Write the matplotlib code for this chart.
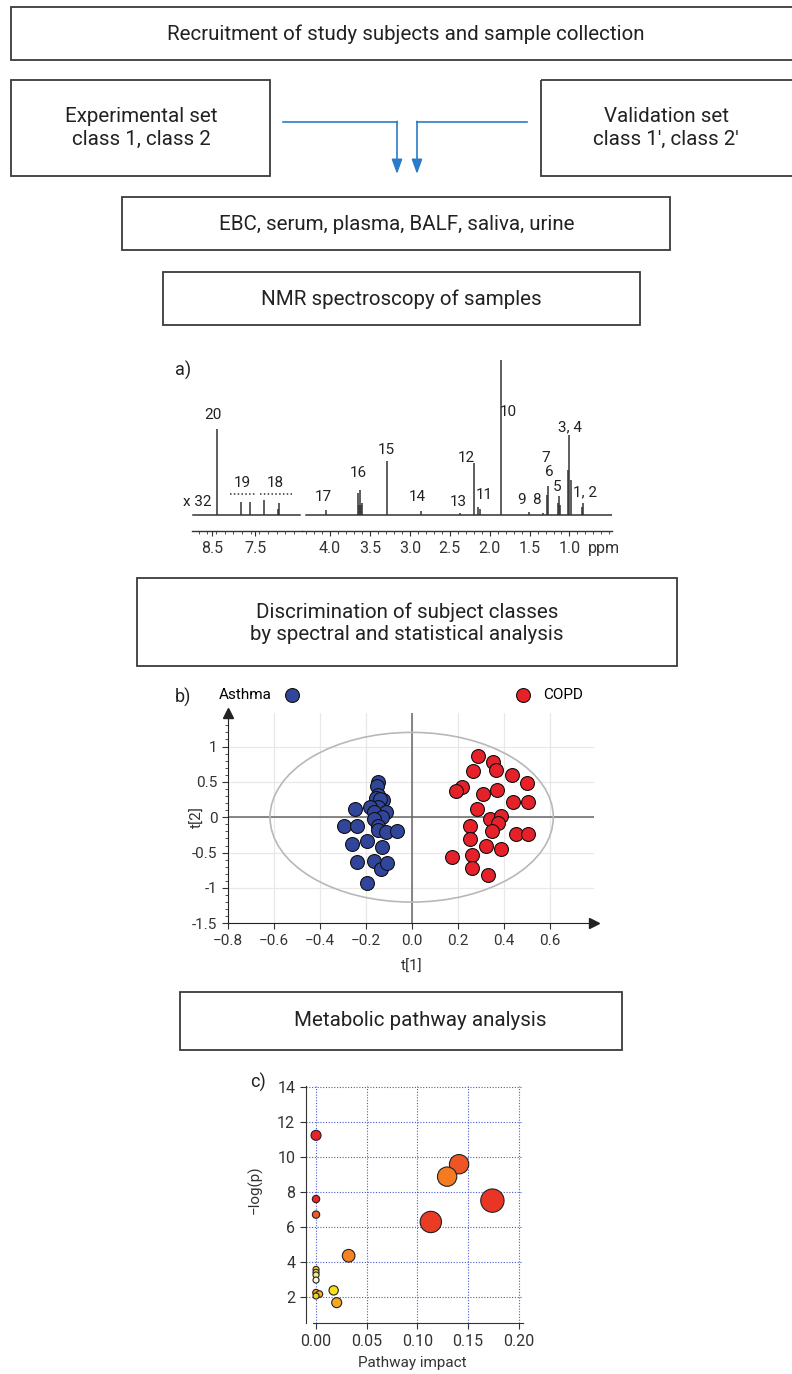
import matplotlib
matplotlib.use("Agg")
import matplotlib.pyplot as plt
from matplotlib.patches import Rectangle, Ellipse
from matplotlib.ticker import MultipleLocator, FixedLocator, FuncFormatter

plt.rcParams['font.family'] = ['Roboto', 'DejaVu Sans']

W, H = 792, 1374

# ---- flow chart text
box_texts = [
    "Recruitment of study subjects and sample collection",
    "Experimental set\nclass 1, class 2",
    "Validation set\nclass 1\u2032, class 2\u2032",
    "EBC, serum, plasma, BALF, saliva, urine",
    "NMR spectroscopy of samples",
    "Discrimination of subject classes\nby spectral and statistical analysis",
    "Metabolic pathway analysis",
]

# ---- a) NMR spectrum (ppm, relative intensity)
arom_ppm = [8.385, 7.82, 7.615, 7.29, 6.975, 6.945]
arom_int = [86, 13, 13, 15, 6, 12]
aliph_ppm = [4.051, 3.65, 3.64, 3.625, 3.61, 3.60, 3.291, 2.861, 2.372, 2.197,
             2.147, 2.122, 1.862, 1.504, 1.332, 1.286, 1.273, 1.150, 1.132,
             1.113, 1.019, 1.006, 0.987, 0.843, 0.831]
aliph_int = [5, 22, 10, 25, 10, 12, 54, 4, 2, 52,
             8, 6, 155, 3, 2, 20, 29, 12, 19,
             10, 45, 80, 35, 8, 12]
arom_range = (8.93, 6.46)
aliph_range = (4.30, 0.47)
arom_ticks = [8.5, 7.5]
aliph_ticks = [4.0, 3.5, 3.0, 2.5, 2.0, 1.5, 1.0]

arom_labels = ['20', '19', '18']
arom_label_ppm = [8.47, 7.80, 7.04]
arom_label_y = [100, 32, 32]
aliph_labels = ['17', '16', '15', '14', '13', '12', '11', '10', '9', '8',
                '7', '6', '5', '3, 4', '1, 2']
aliph_label_ppm = [4.089, 3.641, 3.300, 2.911, 2.397, 2.297, 2.071, 1.771,
                   1.595, 1.420, 1.294, 1.257, 1.157, 0.994, 0.806]
aliph_label_y = [18, 42, 65, 18, 13, 57, 20, 103, 15, 15, 57, 43, 28, 88, 23]

# ---- b) score plot
asthma_t1 = [-0.148, -0.152, -0.145, -0.155, -0.126, -0.139, -0.148, -0.181,
             -0.248, -0.112, -0.162, -0.130, -0.164, -0.145, -0.145, -0.113,
             -0.062, -0.294, -0.239, -0.258, -0.196, -0.130, -0.236, -0.164,
             -0.135, -0.106, -0.193]
asthma_t2 = [0.505, 0.44, 0.32, 0.27, 0.24, 0.26, 0.15, 0.14,
             0.11, 0.07, 0.08, 0.01, -0.03, -0.13, -0.18, -0.21,
             -0.20, -0.12, -0.12, -0.38, -0.34, -0.415, -0.64, -0.62,
             -0.73, -0.65, -0.925]
copd_t1 = [0.290, 0.355, 0.367, 0.265, 0.435, 0.503, 0.217, 0.191, 0.312,
           0.372, 0.442, 0.507, 0.286, 0.341, 0.388, 0.377, 0.254, 0.348,
           0.452, 0.507, 0.254, 0.322, 0.387, 0.177, 0.264, 0.264, 0.330]
copd_t2 = [0.86, 0.78, 0.67, 0.66, 0.60, 0.49, 0.43, 0.37, 0.325,
           0.38, 0.21, 0.22, 0.11, -0.03, 0.02, -0.075, -0.12, -0.20,
           -0.24, -0.24, -0.31, -0.40, -0.45, -0.56, -0.53, -0.72, -0.82]

# ---- c) pathway analysis
impact = [0.0, 0.0, 0.0, 0.0322, 0.0, 0.0, 0.0, 0.0, 0.0, 0.0033, 0.0,
          0.0174, 0.0204, 0.1133, 0.1412, 0.1294, 0.1741]
neglogp = [11.22, 7.58, 6.69, 4.34, 3.56, 3.39, 3.24, 2.95, 2.23, 2.15, 2.04,
           2.36, 1.66, 6.27, 9.57, 8.86, 7.49]
bubble_size = [52, 28, 28, 83, 19, 19, 19, 19, 23, 23, 19,
               45, 52, 236, 194, 194, 282]
bubble_color = ['#e8222a', '#e8262a', '#f05a28', '#f58220', '#f4c542',
                '#f7dc4a', '#faec8a', '#fffbe0', '#f5962a', '#f6b12a',
                '#f2d21c', '#f5e11a', '#f6a81e', '#ea3b24', '#ee5424',
                '#f47b20', '#ea3526']

fig = plt.figure(figsize=(W / 100, H / 100), dpi=100)


def px_axes(l, t, r, b):
    return fig.add_axes([l / W, 1 - b / H, (r - l) / W, (b - t) / H])


# background layer in pixel units for the flow chart
bg = fig.add_axes([0, 0, 1, 1])
bg.set_xlim(0, W)
bg.set_ylim(H, 0)
bg.axis('off')

boxes = [(11, 7, 793, 60), (11, 80, 270, 176), (541, 80, 795, 176),
         (122, 197, 670, 250), (163, 272, 640, 325), (137, 578, 677, 666),
         (180, 992, 622, 1050)]
centers = [(406, 34), (141, 128), (666, 128), (397, 224), (401, 299),
           (407, 623), (420, 1021)]
for (l, t, r, b), (cx, cy), txt in zip(boxes, centers, box_texts):
    bg.add_patch(Rectangle((l, t), r - l, b - t, fill=False, ec='#3a3a3a', lw=1.3))
    bg.text(cx, cy, txt, ha='center', va='center', fontsize=14.8,
            color='#222222', linespacing=1.2)

blue = '#2a7bc8'
for x0, x1 in [(283, 397), (527, 417)]:
    bg.plot([x0, x1], [122, 122], color=blue, lw=1.2)
    bg.annotate('', xy=(x1, 174), xytext=(x1, 121.4),
                arrowprops=dict(arrowstyle='-|>,head_length=0.55,head_width=0.2',
                                color=blue, lw=1.2, mutation_scale=16,
                                shrinkA=0, shrinkB=0))

for lbl, (x, y) in zip(['a)', 'b)', 'c)'], [(183, 370), (183, 697), (258, 1082)]):
    bg.text(x, y, lbl, ha='center', va='center', fontsize=13, color='#222222')

# ---- a) spectrum, broken axis
spec_col = '#333333'
ax_ar = px_axes(192, 360, 302, 517)
ax_al = px_axes(302, 360, 612, 517)
for ax, rng, ticks, step in [(ax_ar, (8.955, 6.415), arom_ticks, 0.2),
                             (ax_al, (4.352, 0.467), aliph_ticks, 0.1)]:
    ax.set_xlim(*rng)
    ax.set_ylim(-2, 155)
    for s in ['left', 'right', 'top']:
        ax.spines[s].set_visible(False)
    ax.spines['bottom'].set_position(('outward', 10))
    ax.spines['bottom'].set_color('#333333')
    ax.spines['bottom'].set_linewidth(1.0)
    ax.set_yticks([])
    ax.patch.set_alpha(0)
    ax.xaxis.set_major_locator(FixedLocator(ticks))
    ax.xaxis.set_minor_locator(MultipleLocator(step))
    ax.xaxis.set_major_formatter(FuncFormatter(lambda v, p: f'{v:.1f}'))
    ax.tick_params(axis='x', which='major', length=3.5, width=0.8, pad=4,
                   labelsize=11.5, colors='#333333')
    ax.tick_params(axis='x', which='minor', length=2, width=0.6, colors='#333333')

ax_ar.plot(arom_range, [0, 0], color=spec_col, lw=1.1)
ax_ar.vlines(arom_ppm, 0, arom_int, color=spec_col, lw=1.1)
ax_al.plot(aliph_range, [0, 0], color=spec_col, lw=1.1)
ax_al.vlines(aliph_ppm, 0, aliph_int, color=spec_col, lw=1.1)

for t, x, y in zip(arom_labels, arom_label_ppm, arom_label_y):
    ax_ar.text(x, y, t, ha='center', va='center', fontsize=11, color='#222222')
ax_ar.text(8.84, 13, 'x 32', ha='center', va='center', fontsize=11, color='#222222')
ax_ar.hlines([21, 21], [8.08, 7.385], [7.5, 6.645], colors='#333333', lw=1.1,
             linestyles=(0, (1, 1.5)))
for t, x, y in zip(aliph_labels, aliph_label_ppm, aliph_label_y):
    ax_al.text(x, y, t, ha='center', va='center', fontsize=11, color='#222222')
bg.text(604, 548, 'ppm', ha='center', va='center', fontsize=11.5, color='#333333')

# ---- b) score plot
ax_b = px_axes(227.7, 713.3, 594, 923.3)
ax_b.set_xlim(-0.8, 0.793)
ax_b.set_ylim(-1.5, 1.47)
ax_b.set_xticks([-0.8, -0.6, -0.4, -0.2, 0, 0.2, 0.4, 0.6])
ax_b.set_yticks([-1.5, -1, -0.5, 0, 0.5, 1])
ax_b.yaxis.set_minor_locator(MultipleLocator(0.1))
ax_b.yaxis.set_major_formatter(FuncFormatter(lambda v, p: f'{v:g}'))
ax_b.grid(color='#e8e8e8', lw=0.9)
ax_b.set_axisbelow(True)
for s in ['right', 'top']:
    ax_b.spines[s].set_visible(False)
for s in ['left', 'bottom']:
    ax_b.spines[s].set_color('#222222')
ax_b.tick_params(which='major', length=4, width=0.8, labelsize=11,
                 colors='#333333')
ax_b.tick_params(which='minor', length=2, width=0.6, colors='#333333')
ax_b.plot(1, 0, '>', color='#222222', ms=7, transform=ax_b.transAxes, clip_on=False)
ax_b.plot(0, 1, '^', color='#222222', ms=7, transform=ax_b.transAxes, clip_on=False)
ax_b.axhline(0, color='#666666', lw=1.1, zorder=1)
ax_b.axvline(0, color='#666666', lw=1.1, zorder=1)
ax_b.add_patch(Ellipse((0, 0), 1.232, 2.40, fill=False, ec='#b8b8b8', lw=1.2, zorder=1))
h_a = ax_b.scatter(asthma_t1, asthma_t2, s=100, c='#31469b', edgecolors='#111111',
                   linewidths=0.8, zorder=3, label='Asthma')
h_c = ax_b.scatter(copd_t1, copd_t2, s=100, c='#e62129', edgecolors='#111111',
                   linewidths=0.8, zorder=3, label='COPD')
leg1 = ax_b.legend(handles=[h_a], loc='center left', bbox_to_anchor=(-0.045, 1.087),
                   frameon=False, markerfirst=False, borderpad=0, handletextpad=0.3,
                   fontsize=11, scatterpoints=1)
ax_b.add_artist(leg1)
ax_b.legend(handles=[h_c], loc='center right', bbox_to_anchor=(0.99, 1.087),
            frameon=False, borderpad=0, handletextpad=0.3, fontsize=11,
            scatterpoints=1)
ax_b.set_xlabel('t[1]', fontsize=11, color='#333333')
ax_b.set_ylabel('t[2]', fontsize=11, color='#333333')
ax_b.xaxis.set_label_coords(0.503, -0.175)
ax_b.yaxis.set_label_coords(-0.062, 0.506)

# ---- c) pathway plot
ax_c = px_axes(305.7, 1085.8, 522.7, 1323.3)
ax_c.set_xlim(-0.0102, 0.204)
ax_c.set_ylim(0.48, 14.05)
ax_c.set_xticks([0, 0.05, 0.10, 0.15, 0.20])
ax_c.set_yticks([2, 4, 6, 8, 10, 12, 14])
ax_c.xaxis.set_major_formatter(FuncFormatter(lambda v, p: f'{v:.2f}'))
ax_c.grid(color='#4a5bd0', lw=0.8, ls=(0, (1, 1.5)))
ax_c.set_axisbelow(True)
for s in ['right', 'top']:
    ax_c.spines[s].set_visible(False)
for s in ['left', 'bottom']:
    ax_c.spines[s].set_color('#333333')
ax_c.spines['bottom'].set_bounds(-0.003, 0.204)
ax_c.tick_params(length=4, width=0.8, labelsize=11.5, colors='#333333')
ax_c.scatter(impact, neglogp, s=bubble_size, c=bubble_color, edgecolors='#222222',
             linewidths=0.8, zorder=3, clip_on=False)
ax_c.set_xlabel('Pathway impact', fontsize=11, color='#333333')
ax_c.set_ylabel('\u2212log(p)', fontsize=11, color='#333333')
ax_c.xaxis.set_label_coords(0.49, -0.138)
ax_c.yaxis.set_label_coords(-0.197, 0.561)

fig.savefig('out.png', dpi=100)
